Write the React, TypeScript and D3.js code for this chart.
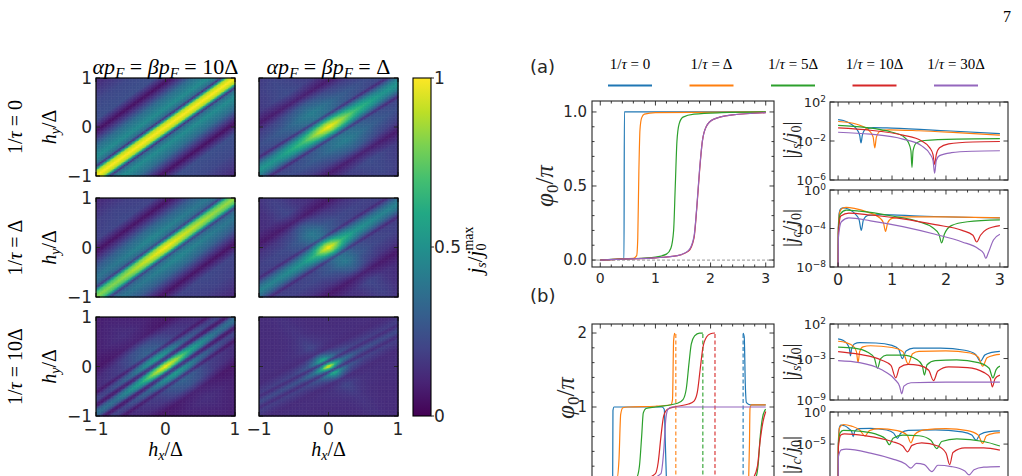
import * as d3 from "d3";

const W = 1022;
const H = 476;
const ink = "#262626";
const serif = "'Liberation Serif', 'DejaVu Serif', serif";
const sans = "'DejaVu Sans', sans-serif";

// line colours and legend labels (1/τ values)
const seriesColors = ["#1f77b4", "#ff7f0e", "#2ca02c", "#d62728", "#9467bd"];
const tauLabels = ["0", "Δ", "5Δ", "10Δ", "30Δ"];

// ---------- heatmaps (row-major: rows 1/τ, columns αp_F = βp_F) ----------
const colTitles = ["10Δ", "Δ"];
const rowTaus = ["0", "Δ", "10Δ"];
const ridgeSlope = [1.0, 0.88, 1.0, 0.88, 0.95, 0.72];
const ridgeFloor = [0, 0.04, 0, 0.04, 0.02, 0.12];
// perpendicular profile: |hy - k*hx| -> j/jmax
const profile1 = [[0, 1], [0.1, 0.88], [0.17, 0.35], [0.2, 0.12], [0.24, 0.35], [0.38, 0.48], [0.6, 0.36], [0.8, 0.15], [0.92, 0.04], [1.15, 0.24], [1.5, 0.22], [2.2, 0.06]];
const profile2 = [[0, 1], [0.1, 0.82], [0.2, 0.45], [0.26, 0.15], [0.32, 0.36], [0.5, 0.4], [0.75, 0.26], [0.95, 0.05], [1.2, 0.2], [1.6, 0.18], [2.2, 0.1]];
const profile3 = [[0, 1], [0.1, 0.85], [0.17, 0.4], [0.2, 0.2], [0.25, 0.38], [0.38, 0.46], [0.6, 0.34], [0.8, 0.15], [0.92, 0.05], [1.15, 0.22], [1.5, 0.2], [2.2, 0.06]];
const profile4 = [[0, 1], [0.1, 0.8], [0.2, 0.45], [0.26, 0.18], [0.32, 0.36], [0.5, 0.38], [0.75, 0.25], [0.95, 0.05], [1.2, 0.18], [1.6, 0.16], [2.2, 0.08]];
const profile5 = [[0, 1], [0.08, 0.75], [0.14, 0.2], [0.18, 0.15], [0.26, 0.55], [0.34, 0.45], [0.42, 0.12], [0.5, 0.3], [0.7, 0.25], [0.9, 0.08], [1.2, 0.12], [2.2, 0.04]];
const profile6 = [[0, 1], [0.06, 0.55], [0.11, 0.06], [0.18, 0.58], [0.28, 0.28], [0.38, 0.02], [0.55, 0.1], [0.9, 0.04], [2.2, 0]];
// envelope along the ridge: position along ridge -> factor
const envelope1 = [[-1, 1], [1, 1]];
const envelope2 = [[-1, 0.5], [-0.5, 0.68], [-0.15, 0.93], [0, 1], [0.15, 0.93], [0.5, 0.68], [1, 0.5]];
const envelope3 = [[-1, 0.82], [-0.3, 0.95], [0, 1], [0.3, 0.95], [1, 0.85]];
const envelope4 = [[-1, 0.42], [-0.5, 0.5], [-0.25, 0.66], [-0.1, 0.9], [0, 1], [0.1, 0.9], [0.25, 0.66], [0.5, 0.5], [1, 0.42]];
const envelope5 = [[-1, 0.35], [-0.5, 0.58], [-0.2, 0.88], [0, 1], [0.2, 0.88], [0.5, 0.58], [1, 0.35]];
const envelope6 = [[-1, 0.12], [-0.5, 0.16], [-0.25, 0.3], [-0.12, 0.6], [-0.05, 0.9], [0, 1], [0.05, 0.9], [0.12, 0.6], [0.25, 0.3], [0.5, 0.16], [1, 0.12]];
const profiles = [profile1, profile2, profile3, profile4, profile5, profile6];
const envelopes = [envelope1, envelope2, envelope3, envelope4, envelope5, envelope6];

// ---------- (a) phase φ0/π vs h ----------
const phaseA = [
  [[0, 0], [0.2, 0.004], [0.43, 0.009], [0.437, 1.0], [1, 1.0], [3, 1.0]],
  [[0, 0], [0.3, 0.006], [0.6, 0.012], [0.66, 0.03], [0.68, 0.15], [0.7, 0.6], [0.72, 0.88], [0.75, 0.96], [0.8, 0.985], [1, 0.995], [3, 1.0]],
  [[0, 0], [0.5, 0.008], [1, 0.02], [1.2, 0.04], [1.28, 0.08], [1.33, 0.2], [1.36, 0.5], [1.39, 0.8], [1.43, 0.92], [1.5, 0.965], [1.7, 0.985], [2.2, 0.995], [3, 1.0]],
  [[0, 0], [0.5, 0.008], [1, 0.015], [1.4, 0.03], [1.6, 0.06], [1.7, 0.15], [1.75, 0.35], [1.8, 0.6], [1.85, 0.8], [1.92, 0.9], [2.05, 0.95], [2.4, 0.98], [3, 0.995]],
  [[0, 0], [0.5, 0.008], [1, 0.015], [1.4, 0.03], [1.6, 0.065], [1.7, 0.16], [1.75, 0.36], [1.8, 0.61], [1.85, 0.8], [1.92, 0.9], [2.05, 0.95], [2.4, 0.98], [3, 0.995]],
];
// |js/j0| and |jc/j0| as [h, log10 value]
const jsA = [
  [[0, 0.2], [0.1, 0.1], [0.25, -0.3], [0.34, -0.75], [0.4, -1.4], [0.425, -2.2], [0.45, -1.4], [0.51, -0.8], [0.65, -0.62], [1, -0.68], [2, -0.95], [3, -1.25]],
  [[0, 0.0], [0.2, -0.1], [0.45, -0.5], [0.58, -0.95], [0.65, -1.6], [0.68, -2.7], [0.71, -1.6], [0.78, -1.0], [0.95, -0.85], [1.5, -0.95], [2.2, -1.15], [3, -1.4]],
  [[0, -0.4], [0.5, -0.6], [1.0, -1.1], [1.2, -1.5], [1.3, -2.1], [1.35, -3.0], [1.37, -4.7], [1.39, -3.0], [1.45, -2.2], [1.6, -1.95], [2.2, -1.8], [3, -1.75]],
  [[0, -0.65], [0.6, -0.9], [1.2, -1.4], [1.55, -2.0], [1.7, -2.7], [1.76, -3.4], [1.79, -4.4], [1.82, -3.4], [1.88, -2.7], [2.05, -2.3], [2.5, -2.1], [3, -2.05]],
  [[0, -1.1], [0.6, -1.3], [1.2, -1.8], [1.55, -2.5], [1.7, -3.3], [1.76, -4.0], [1.79, -5.3], [1.82, -4.0], [1.88, -3.5], [2.1, -3.2], [2.5, -3.05], [3, -3.0]],
];
const jcA = [
  [[0, -9], [0.005, -4], [0.02, -2.4], [0.05, -1.95], [0.1, -1.85], [0.2, -2.0], [0.32, -2.5], [0.39, -3.1], [0.43, -4.2], [0.47, -3.1], [0.55, -2.65], [0.8, -2.55], [1.5, -2.7], [3, -2.9]],
  [[0, -9], [0.005, -4], [0.03, -2.3], [0.08, -1.9], [0.15, -1.8], [0.3, -1.9], [0.55, -2.3], [0.75, -2.8], [0.84, -3.4], [0.88, -4.3], [0.92, -3.4], [1.0, -2.95], [1.3, -2.8], [2, -2.8], [3, -2.9]],
  [[0, -9], [0.005, -4], [0.04, -2.5], [0.15, -2.1], [0.4, -2.2], [1.0, -2.7], [1.5, -3.3], [1.75, -3.9], [1.87, -4.6], [1.92, -5.5], [1.97, -4.6], [2.1, -3.7], [2.4, -3.3], [3, -3.1]],
  [[0, -9], [0.005, -4.5], [0.05, -2.7], [0.2, -2.4], [0.6, -2.6], [1.2, -3.0], [1.8, -3.6], [2.3, -4.2], [2.5, -4.7], [2.57, -5.4], [2.64, -4.7], [2.75, -4.1], [3, -3.7]],
  [[0, -9], [0.005, -5], [0.06, -3.3], [0.2, -2.9], [0.6, -3.2], [1.2, -3.8], [1.8, -4.6], [2.3, -5.4], [2.6, -6.1], [2.7, -6.6], [2.74, -7.1], [2.78, -6.6], [2.88, -5.2], [3, -4.6]],
];

// ---------- (b) ----------
// solid pieces for each series, dashed phase-wrap positions
const phaseB = [
  [[[0, 0], [0.2, 0], [0.225, 0.05], [0.23, 0.95], [0.25, 1.0], [1.12, 1.0], [1.16, 0.97], [1.18, 0.5], [1.2, 0]],
   [[2.59, 2], [2.61, 1.95], [2.63, 1.3], [2.65, 1.06], [2.72, 1.03], [3, 1.03]]],
  [[[0, 0], [0.3, 0.02], [0.34, 0.3], [0.37, 0.9], [0.41, 0.99], [0.5, 1.0], [1.0, 1.01], [1.28, 1.03], [1.31, 1.1], [1.33, 1.9], [1.35, 2.0]],
   [[2.69, 0], [2.705, 0.5], [2.715, 0.98], [2.74, 1.03], [3, 1.03]]],
  [[[0, 0], [0.5, 0.02], [0.66, 0.05], [0.71, 0.2], [0.75, 0.6], [0.78, 0.92], [0.83, 0.98], [1.0, 1.0], [1.4, 1.05], [1.5, 1.1], [1.56, 1.25], [1.61, 1.6], [1.65, 1.85], [1.71, 1.96], [1.8, 2.0], [1.86, 2.0]],
   [[2.7, 0], [2.82, 0.05], [2.86, 0.2], [2.9, 0.6], [2.94, 0.85], [2.98, 0.95], [3, 0.97]]],
  [[[0, 0], [0.8, 0.03], [1.0, 0.1], [1.05, 0.25], [1.1, 0.6], [1.15, 0.88], [1.22, 0.97], [1.4, 1.01], [1.6, 1.04], [1.7, 1.08], [1.76, 1.2], [1.81, 1.5], [1.86, 1.8], [1.93, 1.95], [2.0, 1.99], [2.08, 2.0]],
   [[2.7, 0], [2.78, 0.05], [2.85, 0.2], [2.9, 0.55], [2.95, 0.8], [3, 0.94]]],
  [[[0, 0], [0.9, 0.03], [1.1, 0.1], [1.15, 0.4], [1.19, 0.85], [1.23, 0.97], [1.3, 1.0], [3, 1.0]]],
];
const wrapB = [2.59, 1.37, 1.86, 2.08, null];
const jsB = [
  [[0, -0.15], [0.1, -0.4], [0.17, -0.9], [0.21, -1.6], [0.23, -2.6], [0.25, -1.6], [0.3, -0.9], [0.4, -0.7], [0.7, -0.75], [1.0, -1.1], [1.12, -1.6], [1.19, -3.0], [1.26, -1.9], [1.4, -1.5], [1.9, -1.5], [2.35, -1.8], [2.55, -2.4], [2.64, -3.4], [2.72, -2.5], [2.85, -2.1], [3, -1.95]],
  [[0, -0.5], [0.15, -0.7], [0.28, -1.2], [0.34, -2.0], [0.37, -3.6], [0.4, -2.0], [0.46, -1.3], [0.6, -1.15], [1.0, -1.4], [1.2, -2.0], [1.3, -3.8], [1.38, -2.3], [1.5, -1.95], [2.0, -1.9], [2.45, -2.2], [2.6, -2.8], [2.68, -4.1], [2.76, -2.9], [2.9, -2.5], [3, -2.4]],
  [[0, -1.35], [0.3, -1.5], [0.55, -2.1], [0.67, -2.9], [0.73, -4.4], [0.79, -3.0], [0.9, -2.5], [1.2, -2.5], [1.45, -3.1], [1.56, -4.0], [1.6, -5.4], [1.65, -3.9], [1.8, -3.3], [2.2, -3.2], [2.6, -3.6], [2.8, -4.4], [2.87, -5.8], [2.93, -4.6], [3, -4.1]],
  [[0, -2.0], [0.4, -2.4], [0.8, -3.2], [0.98, -4.0], [1.07, -5.8], [1.14, -4.3], [1.3, -3.85], [1.5, -4.0], [1.68, -4.7], [1.77, -6.2], [1.85, -4.8], [2.05, -4.2], [2.4, -4.3], [2.7, -5.0], [2.82, -5.8], [2.86, -7.1], [2.91, -5.9], [3, -5.4]],
  [[0, -3.3], [0.4, -3.6], [0.8, -4.6], [1.05, -6.0], [1.14, -7.0], [1.18, -8.1], [1.22, -7.0], [1.35, -6.5], [2, -6.4], [3, -6.4]],
];
const jcB = [
  [[0, -13], [0.005, -5], [0.02, -2.6], [0.05, -2.06], [0.12, -2.15], [0.2, -2.6], [0.25, -3.0], [0.28, -3.85], [0.31, -3.0], [0.38, -2.6], [0.6, -2.55], [0.9, -2.8], [1.03, -3.3], [1.1, -4.1], [1.16, -3.3], [1.3, -2.85], [1.8, -2.8], [2.3, -3.1], [2.48, -3.6], [2.56, -4.4], [2.63, -3.5], [2.8, -3.05], [3, -2.95]],
  [[0, -13], [0.005, -5], [0.03, -2.4], [0.1, -1.95], [0.25, -2.2], [0.4, -2.8], [0.5, -3.75], [0.58, -2.9], [0.75, -2.6], [1.1, -2.9], [1.28, -3.6], [1.35, -4.8], [1.42, -3.5], [1.6, -2.8], [2.0, -2.6], [2.4, -2.9], [2.6, -3.6], [2.68, -4.9], [2.75, -3.7], [2.9, -3.3], [3, -3.2]],
  [[0, -13], [0.005, -5], [0.04, -3.2], [0.1, -2.85], [0.4, -3.0], [0.75, -3.6], [0.88, -4.2], [0.95, -5.1], [1.02, -4.1], [1.2, -3.6], [1.5, -3.7], [1.72, -4.4], [1.83, -5.7], [1.92, -4.6], [2.2, -4.2], [2.7, -4.6], [3, -5.3]],
  [[0, -13], [0.005, -5.5], [0.05, -3.6], [0.12, -3.4], [0.5, -3.7], [1.0, -4.6], [1.2, -5.3], [1.29, -6.2], [1.37, -5.2], [1.55, -4.8], [1.85, -5.3], [2.0, -6.4], [2.07, -8.2], [2.13, -6.3], [2.35, -5.6], [2.7, -5.6], [3, -5.95]],
  [[0, -13], [0.005, -7], [0.06, -5.9], [0.15, -5.8], [0.6, -6.4], [1.0, -7.3], [1.25, -8.1], [1.35, -8.75], [1.45, -8.0], [1.6, -8.2], [1.74, -9.3], [1.85, -8.3], [2.1, -8.5], [2.35, -9.2], [2.43, -9.8], [2.52, -9.0], [2.7, -8.6], [3, -8.5]],
];

const hTicks = [0, 1, 2, 3];
const hMinor = d3.range(0.2, 3.01, 0.2).filter((v) => Math.abs(v - Math.round(v)) > 0.01);
const hDomain = [-0.15, 3.15];

// ---------- layout ----------
const hmCols = [[96, 235], [259, 398]];
const hmRows = [[78, 176], [198, 297], [317, 416]];
const cbar = { x0: 413, x1: 431, y0: 78, y1: 416 };

function Heatmap({ idx, x0, x1, y0, y1 }: any) {
  const xs = d3.scaleLinear([-1, 1], [x0, x1]);
  const ys = d3.scaleLinear([-1, 1], [y1, y0]);
  const color = d3.scaleSequential(d3.interpolateViridis).domain([0, 1]);
  const prof = d3.scaleLinear().domain(profiles[idx].map((d) => d[0])).range(profiles[idx].map((d) => d[1])).clamp(true);
  const env = d3.scaleLinear().domain(envelopes[idx].map((d) => d[0])).range(envelopes[idx].map((d) => d[1])).clamp(true);
  const k = ridgeSlope[idx];
  const norm = Math.sqrt(1 + k * k);
  const nx = 100, ny = 70;
  const cw = (x1 - x0) / nx, ch = (y1 - y0) / ny;
  const cells: any[] = [];
  for (let i = 0; i < nx; i++) {
    for (let j = 0; j < ny; j++) {
      const hx = -1 + ((i + 0.5) * 2) / nx;
      const hy = 1 - ((j + 0.5) * 2) / ny;
      const dv = Math.abs(hy - k * hx);
      const s = (hx + k * hy) / norm;
      const f = ridgeFloor[idx];
      const v = f + (1 - f) * env(s) * prof(dv);
      cells.push(
        <rect key={i * ny + j} x={xs(hx) - cw / 2} y={ys(hy) - ch / 2} width={cw + 0.5} height={ch + 0.5} fill={color(v)} />
      );
    }
  }
  const tk = [-1, 0, 1];
  return (
    <g>
      <g>{cells}</g>
      {tk.map((t) => (
        <g key={t} stroke={ink} strokeWidth={1}>
          <line x1={xs(t)} x2={xs(t)} y1={y1} y2={y1 - 4} />
          <line x1={xs(t)} x2={xs(t)} y1={y0} y2={y0 + 4} />
          <line x1={x0} x2={x0 + 4} y1={ys(t)} y2={ys(t)} />
          <line x1={x1} x2={x1 - 4} y1={ys(t)} y2={ys(t)} />
        </g>
      ))}
      <rect x={x0} y={y0} width={x1 - x0} height={y1 - y0} fill="none" stroke="#000" strokeWidth={1.2} />
    </g>
  );
}

function Frame({ x0, x1, y0, y1, xs, yMaj, yMin, ys }: any) {
  const maj = 4.5, mn = 2.5;
  return (
    <g stroke={ink} strokeWidth={0.9}>
      {hTicks.map((t) => (
        <g key={"x" + t}>
          <line x1={xs(t)} x2={xs(t)} y1={y1} y2={y1 - maj} />
          <line x1={xs(t)} x2={xs(t)} y1={y0} y2={y0 + maj} />
        </g>
      ))}
      {hMinor.map((t) => (
        <g key={"xm" + t}>
          <line x1={xs(t)} x2={xs(t)} y1={y1} y2={y1 - mn} />
          <line x1={xs(t)} x2={xs(t)} y1={y0} y2={y0 + mn} />
        </g>
      ))}
      {yMaj.map((t: number) => (
        <g key={"y" + t}>
          <line x1={x0} x2={x0 + maj} y1={ys(t)} y2={ys(t)} />
          <line x1={x1} x2={x1 - maj} y1={ys(t)} y2={ys(t)} />
        </g>
      ))}
      {yMin.map((t: number) => (
        <g key={"ym" + t}>
          <line x1={x0} x2={x0 + mn} y1={ys(t)} y2={ys(t)} />
          <line x1={x1} x2={x1 - mn} y1={ys(t)} y2={ys(t)} />
        </g>
      ))}
      <rect x={x0} y={y0} width={x1 - x0} height={y1 - y0} fill="none" strokeWidth={1.1} />
    </g>
  );
}

function PhasePanel({ id, x0, x1, y0, y1, yDomain, yMaj, yLabels, yMinStep, pieces, wraps, zeroLine, xLabels }: any) {
  const xs = d3.scaleLinear(hDomain, [x0, x1]);
  const ys = d3.scaleLinear(yDomain, [y1, y0]);
  const line = d3.line<number[]>().x((d) => xs(d[0])).y((d) => ys(d[1])).curve(d3.curveMonotoneX);
  const top = yMaj[yMaj.length - 1];
  const yMin = d3.range(0, top + 1e-6, yMinStep).filter((v) => !yMaj.some((m: number) => Math.abs(m - v) < 1e-6));
  return (
    <g>
      <clipPath id={id}>
        <rect x={x0} y={y0} width={x1 - x0} height={y1 - y0} />
      </clipPath>
      <g clipPath={`url(#${id})`}>
        {zeroLine && <line x1={x0} x2={x1} y1={ys(0)} y2={ys(0)} stroke="#aaa" strokeWidth={1.2} strokeDasharray="3,2" />}
        {wraps &&
          wraps.map((w: number | null, i: number) =>
            w == null ? null : (
              <line key={"w" + i} x1={xs(w)} x2={xs(w)} y1={ys(0)} y2={ys(2)} stroke={seriesColors[i]} strokeWidth={1.1} strokeDasharray="4,2.5" />
            )
          )}
        {pieces.map((ser: any, i: number) =>
          ser.map((p: any, k: number) => (
            <path key={i + "-" + k} d={line(p) as string} fill="none" stroke={seriesColors[i]} strokeWidth={1.2} />
          ))
        )}
      </g>
      <Frame x0={x0} x1={x1} y0={y0} y1={y1} xs={xs} ys={ys} yMaj={yMaj} yMin={yMin} />
      {yMaj.map((t: number, i: number) =>
        yLabels[i] ? (
          <text key={t} x={x0 - 5} y={ys(t)} dy="0.36em" textAnchor="end" fontFamily={sans} fontSize={15} fill={ink}>
            {yLabels[i]}
          </text>
        ) : null
      )}
      {xLabels &&
        hTicks.map((t) => (
          <text key={t} x={xs(t)} y={y1 + 16} textAnchor="middle" fontFamily={sans} fontSize={14} fill={ink}>
            {t}
          </text>
        ))}
    </g>
  );
}

function LogPanel({ id, x0, x1, y0, y1, expDomain, expLabels, curves, xLabels }: any) {
  const xs = d3.scaleLinear(hDomain, [x0, x1]);
  const ys = d3.scaleLog([10 ** expDomain[0], 10 ** expDomain[1]], [y1, y0]);
  const line = d3.line<number[]>().x((d) => xs(d[0])).y((d) => ys(10 ** d[1])).curve(d3.curveMonotoneX);
  const yMaj = expLabels.map((e: number) => 10 ** e);
  return (
    <g>
      <clipPath id={id}>
        <rect x={x0} y={y0} width={x1 - x0} height={y1 - y0} />
      </clipPath>
      <g clipPath={`url(#${id})`}>
        {curves.map((c: any, i: number) => (
          <path key={i} d={line(c) as string} fill="none" stroke={seriesColors[i]} strokeWidth={1.2} />
        ))}
      </g>
      <Frame x0={x0} x1={x1} y0={y0} y1={y1} xs={xs} ys={ys} yMaj={yMaj} yMin={[]} />
      {expLabels.map((e: number) => (
        <text key={e} x={x0 - 4} y={ys(10 ** e)} dy="0.4em" textAnchor="end" fontFamily={sans} fontSize={13} fill={ink}>
          10<tspan dy="-0.55em" fontSize={9}>{e < 0 ? "−" + -e : e}</tspan>
        </text>
      ))}
      {xLabels &&
        hTicks.map((t) => (
          <text key={t} x={xs(t)} y={y1 + 18} textAnchor="middle" fontFamily={sans} fontSize={16} fill={ink}>
            {t}
          </text>
        ))}
    </g>
  );
}

function JLabel({ x, y, sub }: any) {
  return (
    <text transform={`translate(${x},${y}) rotate(-90)`} textAnchor="middle" fontFamily={serif} fontSize={20} fill={ink}>
      |<tspan fontStyle="italic">j</tspan>
      <tspan fontStyle="italic" fontSize={14} dy={4}>{sub}</tspan>
      <tspan dy={-4}>/</tspan>
      <tspan fontStyle="italic">j</tspan>
      <tspan fontSize={14} dy={4}>0</tspan>
      <tspan dy={-4}>|</tspan>
    </text>
  );
}

function PhiLabel({ x, y }: any) {
  return (
    <text transform={`translate(${x},${y}) rotate(-90)`} textAnchor="middle" fontFamily={serif} fontSize={25} fill={ink}>
      <tspan fontStyle="italic">φ</tspan>
      <tspan fontSize={17} dy={5}>0</tspan>
      <tspan dy={-5}>/</tspan>
      <tspan fontStyle="italic">π</tspan>
    </text>
  );
}

export default function App() {
  const cbScale = d3.scaleLinear([0, 1], [cbar.y1, cbar.y0]);
  const stops = d3.range(0, 1.0001, 0.1);
  const legendX = d3.scaleLinear([0, 4], [630, 956]);
  return (
    <svg width={W} height={H} style={{ position: "absolute", left: 0, top: 0, background: "#fff" }}>
      <defs>
        <linearGradient id="vir" x1="0" y1="1" x2="0" y2="0">
          {stops.map((s) => (
            <stop key={s} offset={s} stopColor={d3.interpolateViridis(s)} />
          ))}
        </linearGradient>
      </defs>
      <text x={1003} y={22} fontFamily={serif} fontSize={16} fill="#000">7</text>

      {/* heatmaps */}
      {hmRows.map(([y0, y1], r) =>
        hmCols.map(([x0, x1], c) => <Heatmap key={r * 2 + c} idx={r * 2 + c} x0={x0} x1={x1} y0={y0} y1={y1} />)
      )}
      {hmCols.map(([x0, x1], c) => (
        <text key={"t" + c} x={(x0 + x1) / 2} y={74} textAnchor="middle" fontFamily={serif} fontSize={22} fill="#000">
          <tspan fontStyle="italic">αp</tspan>
          <tspan fontStyle="italic" fontSize={15} dy={4}>F</tspan>
          <tspan dy={-4}> = </tspan>
          <tspan fontStyle="italic">βp</tspan>
          <tspan fontStyle="italic" fontSize={15} dy={4}>F</tspan>
          <tspan dy={-4}> = {colTitles[c]}</tspan>
        </text>
      ))}
      {hmRows.map(([y0, y1], r) => (
        <g key={"r" + r}>
          <text transform={`translate(22,${(y0 + y1) / 2}) rotate(-90)`} textAnchor="middle" fontFamily={serif} fontSize={20} fill="#000">
            1/<tspan fontStyle="italic">τ</tspan> = {rowTaus[r]}
          </text>
          <text transform={`translate(56,${(y0 + y1) / 2}) rotate(-90)`} textAnchor="middle" fontFamily={serif} fontSize={20} fill="#000">
            <tspan fontStyle="italic">h</tspan>
            <tspan fontStyle="italic" fontSize={14} dy={4}>y</tspan>
            <tspan dy={-4}>/Δ</tspan>
          </text>
          {[1, 0, -1].map((t) => (
            <text key={t} x={92} y={d3.scaleLinear([-1, 1], [y1, y0])(t)} dy="0.36em" textAnchor="end" fontFamily={sans} fontSize={17} fill={ink}>
              {t < 0 ? "−1" : t}
            </text>
          ))}
        </g>
      ))}
      {hmCols.map(([x0, x1], c) => (
        <g key={"x" + c}>
          {[-1, 0, 1].map((t) => (
            <text key={t} x={d3.scaleLinear([-1, 1], [x0, x1])(t)} y={435} textAnchor="middle" fontFamily={sans} fontSize={17} fill={ink}>
              {t < 0 ? "−1" : t}
            </text>
          ))}
          <text x={(x0 + x1) / 2} y={456} textAnchor="middle" fontFamily={serif} fontSize={20} fill="#000">
            <tspan fontStyle="italic">h</tspan>
            <tspan fontStyle="italic" fontSize={14} dy={4}>x</tspan>
            <tspan dy={-4}>/Δ</tspan>
          </text>
        </g>
      ))}

      {/* colour bar */}
      <rect x={cbar.x0} y={cbar.y0} width={cbar.x1 - cbar.x0} height={cbar.y1 - cbar.y0} fill="url(#vir)" stroke="#000" strokeWidth={1.1} />
      {[1, 0.5, 0].map((t) => (
        <g key={t}>
          <line x1={cbar.x1} x2={cbar.x1 + 3} y1={cbScale(t)} y2={cbScale(t)} stroke={ink} />
          <text x={cbar.x1 + 3} y={cbScale(t)} dy="0.36em" fontFamily={sans} fontSize={17} fill={ink}>
            {t}
          </text>
        </g>
      ))}
      <text transform={`translate(482,250) rotate(-90)`} textAnchor="middle" fontFamily={serif} fontSize={21} fill="#000">
        <tspan fontStyle="italic">j</tspan>
        <tspan fontStyle="italic" fontSize={14} dy={4}>s</tspan>
        <tspan dy={-4}>/</tspan>
        <tspan fontStyle="italic">j</tspan>
        <tspan fontSize={14} dy={4}>0</tspan>
        <tspan fontSize={14} dx={-7} dy={-13}>max</tspan>
      </text>

      {/* legend */}
      <text x={530} y={73} fontFamily={sans} fontSize={18} fill={ink}>(a)</text>
      <text x={530} y={302} fontFamily={sans} fontSize={18} fill={ink}>(b)</text>
      {tauLabels.map((lab, i) => (
        <g key={lab}>
          <text x={legendX(i)} y={69} textAnchor="middle" fontFamily={serif} fontSize={15} fill="#000">
            1/<tspan fontStyle="italic">τ</tspan> = {lab}
          </text>
          <line x1={legendX(i) - 22} x2={legendX(i) + 22} y1={85.5} y2={85.5} stroke={seriesColors[i]} strokeWidth={2} />
        </g>
      ))}

      {/* (a) */}
      <PhasePanel id="pa" x0={592} x1={774} y0={101} y1={267} yDomain={[-0.047, 1.074]} yMaj={[0, 0.5, 1]} yLabels={["0.0", "0.5", "1.0"]} yMinStep={0.1} pieces={phaseA.map((p) => [p])} zeroLine xLabels />
      <PhiLabel x={553} y={186} />
      <LogPanel id="ja" x0={830} x1={1008} y0={102} y1={180} expDomain={[-6, 2]} expLabels={[2, -2, -6]} curves={jsA} />
      <LogPanel id="ca" x0={830} x1={1008} y0={190} y1={267} expDomain={[-8, 0]} expLabels={[0, -4, -8]} curves={jcA} xLabels />
      <JLabel x={797} y={140} sub="s" />
      <JLabel x={797} y={228} sub="c" />

      {/* (b) */}
      <PhasePanel id="pb" x0={592} x1={774} y0={324} y1={490} yDomain={[-0.122, 2.122]} yMaj={[0, 1, 2]} yLabels={[null, "1", "2"]} yMinStep={0.2} pieces={phaseB} wraps={wrapB} />
      <PhiLabel x={574} y={398} />
      <LogPanel id="jb" x0={830} x1={1008} y0={324} y1={400} expDomain={[-9, 2]} expLabels={[2, -3, -9]} curves={jsB} />
      <LogPanel id="cb" x0={830} x1={1008} y0={412} y1={489} expDomain={[-12, 0]} expLabels={[0, -5]} curves={jcB} />
      <JLabel x={797} y={362} sub="s" />
      <JLabel x={797} y={455} sub="c" />
    </svg>
  );
}
